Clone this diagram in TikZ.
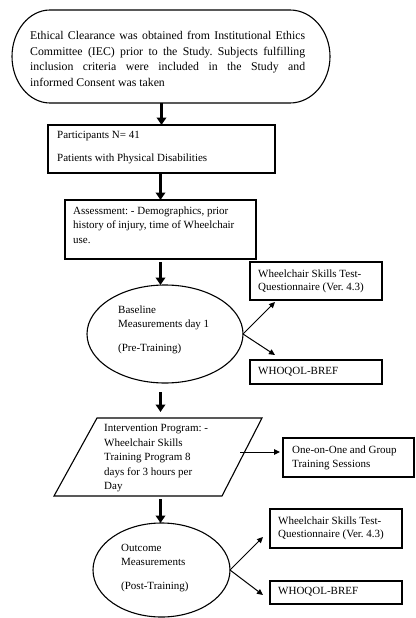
\documentclass[tikz,border=0pt]{standalone}
\usepackage{fontspec}
\setmainfont{Liberation Serif}
\usetikzlibrary{arrows.meta,shapes.geometric,calc}
\frenchspacing
\begin{document}
\begin{tikzpicture}[x=1pt,y=-1pt,
  shapeline/.style={draw=black,line width=1.1pt},
  boxnode/.style={shapeline,rectangle,inner sep=0pt,outer sep=0pt,anchor=north west},
  ellnode/.style={shapeline,ellipse,inner sep=0pt,outer sep=0pt},
  txt/.style={anchor=north west,inner sep=0pt,align=left,font=\fontsize{11}{14.5}\selectfont},
  bigarrow/.style={line width=3.2pt,-{Triangle[width=9.5pt,length=7.5pt]}},
  thinarrow/.style={line width=1pt,-{Triangle[width=5.5pt,length=6pt]}}]
\useasboundingbox (0,0) rectangle (415,618);
% top terminator
\node[inner sep=0pt,minimum width=318pt,minimum height=93pt] (term) at (171,56.5) {};
\draw[shapeline] (50,10) -- (290,10) .. controls (312,10) and (330,31) .. (330,56.5)
  .. controls (330,82) and (312,103) .. (290,103) -- (50,103)
  .. controls (29,103) and (12,82) .. (12,56.5)
  .. controls (12,31) and (29,10) .. (50,10) -- cycle;
\node[txt,text width=275pt,align=justify,font=\fontsize{11.8}{15.6}\selectfont] (termtext) at (30,31)
  {Ethical Clearance was obtained from Institutional Ethics\linebreak
   Committee (IEC) prior to the Study. Subjects fulfilling\linebreak
   inclusion criteria were included in the Study and\linebreak
   informed Consent was taken};
% boxes
\node[boxnode,minimum width=227pt,minimum height=48pt] (box1) at (48,125) {};
\node[txt] (box1text) at (57,131.5) {Participants N= 41\\[8.5pt]Patients with Physical Disabilities};
\node[boxnode,minimum width=191pt,minimum height=59pt] (box2) at (65,200) {};
\node[txt] (box2text) at (73,206.5) {Assessment: - Demographics, prior\\history of injury, time of Wheelchair\\use.};
\node[ellnode,minimum width=156pt,minimum height=98pt] (ell1) at (165,334) {};
\node[txt,font=\fontsize{11}{14}\selectfont] (ell1text) at (118,305.5) {Baseline\\Measurements day 1\\[10pt](Pre-Training)};
\node[boxnode,minimum width=132pt,minimum height=38pt] (wst1) at (250,262) {};
\node[txt,font=\fontsize{11}{13.5}\selectfont] (wst1text) at (258,269.5) {Wheelchair Skills Test-\\Questionnaire (Ver. 4.3)};
\node[boxnode,minimum width=132pt,minimum height=24pt] (who1) at (250,360) {};
\node[txt] (who1text) at (258,367.5) {WHOQOL-BREF};
% parallelogram
\node[inner sep=0pt,outer sep=0pt,minimum width=168pt,minimum height=78pt] (para) at (158,457) {};
\draw[shapeline] (97,418) -- (262,418) -- (222,496) -- (54,496) -- cycle;
\node[txt] (paratext) at (104,424.5) {Intervention Program: -\\Wheelchair Skills\\Training Program 8\\days for 3 hours per\\Day};
\node[boxnode,minimum width=131pt,minimum height=39pt] (ooo) at (283,438) {};
\node[txt] (oootext) at (292,445.5) {One-on-One and Group\\Training Sessions};
\node[ellnode,minimum width=137pt,minimum height=94pt] (ell2) at (161.5,570) {};
\node[txt,font=\fontsize{11}{14}\selectfont] (ell2text) at (121,544.5) {Outcome\\Measurements\\[10pt](Post-Training)};
\node[boxnode,minimum width=132pt,minimum height=39pt] (wst2) at (270,509) {};
\node[txt,font=\fontsize{11}{13.5}\selectfont] (wst2text) at (278,516.5) {Wheelchair Skills Test-\\Questionnaire (Ver. 4.3)};
\node[boxnode,minimum width=132pt,minimum height=23pt] (who2) at (270,581) {};
\node[txt] (who2text) at (278,587.5) {WHOQOL-BREF};
% big arrows
\draw[bigarrow] (box1.north |- term.south) -- (box1.north);
\draw[bigarrow] (box2.north |- box1.south) -- (box2.north);
\draw[bigarrow,shorten <=3pt] (box2.south) -- (box2.south |- ell1.north);
\draw[bigarrow,shorten <=9pt,shorten >=6pt] (box2.south |- ell1.south) -- (box2.south |- para.north);
\draw[bigarrow,shorten <=3pt] (box2.south |- para.south) -- (box2.south |- ell2.north);
% thin arrows
\draw[thinarrow] (ell1.east) -- ([xshift=25pt,yshift=-2pt]wst1.south west);
\draw[thinarrow] (ell1.east) -- ([xshift=25pt,yshift=5pt]who1.north west);
\coordinate (ooostart) at (240,452);
\draw[thinarrow,shorten >=3pt] (ooostart) -- (ooostart -| ooo.west);
\draw[thinarrow] (ell2.east) -- ([xshift=-7pt,yshift=11pt]wst2.south west);
\draw[thinarrow] (ell2.east) -- ([xshift=-7pt,yshift=-14pt]who2.north west);
\end{tikzpicture}
\end{document}
